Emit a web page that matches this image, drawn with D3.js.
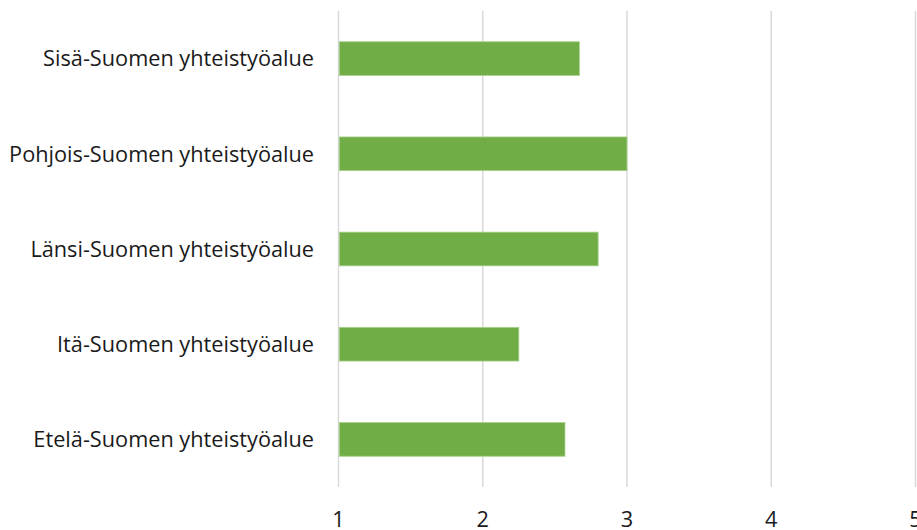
<!DOCTYPE html>
<html><head><meta charset="utf-8">
<script src="https://cdn.jsdelivr.net/npm/d3@7"></script>
<style>body{margin:0;background:#fff;} svg{display:block;}</style>
</head><body>
<svg id="c" width="917" height="530"></svg>
<script>
const categories = ["Sisä-Suomen yhteistyöalue","Pohjois-Suomen yhteistyöalue","Länsi-Suomen yhteistyöalue","Itä-Suomen yhteistyöalue","Etelä-Suomen yhteistyöalue"];
const values = [2.67, 3.0, 2.80, 2.25, 2.57];
const ticks = [1,2,3,4,5];

const svg = d3.select("#c");
const font = "'Open Sans', sans-serif";
const x = d3.scaleLinear().domain([1,5]).range([338.5, 915.5]);
const y = d3.scaleBand().domain(categories).range([11, 487]).paddingInner(0.646).paddingOuter(0.323);

svg.append("g").selectAll("line").data(ticks).join("line")
  .attr("x1", d=>x(d)).attr("x2", d=>x(d)).attr("y1", 11).attr("y2", 487)
  .attr("stroke", "#d9d9d9").attr("stroke-width", 1.5);

svg.append("g").selectAll("rect").data(categories).join("rect")
  .attr("x", x(1)+0.75).attr("y", d=>y(d))
  .attr("width", (d,i)=>x(values[i])-x(1)-0.75).attr("height", y.bandwidth())
  .attr("fill", "#70ad47").attr("stroke", "#a9d18e").attr("stroke-width", 0.8);

const lbl = svg.append("g").selectAll("text").data(categories).join("text")
  .attr("x", 314).attr("y", d=>y(d)+y.bandwidth()/2).attr("dy", "0.36em")
  .attr("text-anchor", "end").attr("font-family", font).attr("font-size", 20)
  .attr("fill", "#1a1a1a").text(d=>d);
// fit first label to reference width (~271px)
const w = lbl.nodes()[0].getComputedTextLength();
const fs = 20 * 271 / w;
lbl.attr("font-size", fs);

svg.append("g").selectAll("text").data(ticks).join("text")
  .attr("x", d=>x(d)).attr("y", 527).attr("text-anchor", "middle")
  .attr("font-family", font).attr("font-size", fs).attr("fill", "#1a1a1a").text(d=>d);
</script>
</body></html>
